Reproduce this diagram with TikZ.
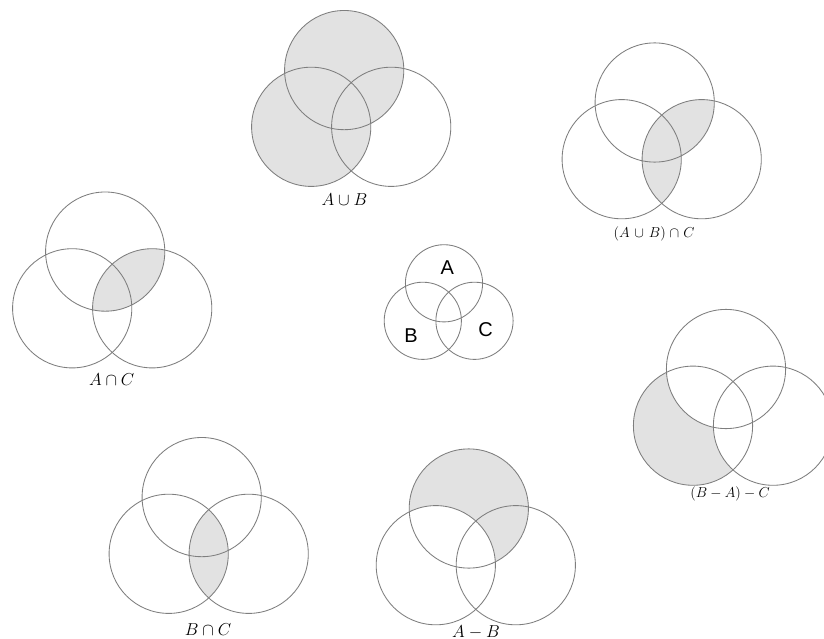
\documentclass[tikz,border=0pt]{standalone}
\usepackage{fontspec}
\newfontfamily\lsans{Liberation Sans}
\definecolor{vline}{HTML}{7E7E7E}
\definecolor{vfill}{HTML}{E2E2E2}
\newcommand\vA{(33,-56.7) circle[radius=59.6pt]}
\newcommand\vB{(0,0) circle[radius=59.6pt]}
\newcommand\vC{(80,0) circle[radius=59.6pt]}
\newcommand\vennrings{\draw[ring] \vA; \draw[ring] \vB; \draw[ring] \vC;}
\begin{document}
\begin{tikzpicture}[x=1pt,y=-1pt,
  ring/.style={draw=vline,line width=0.85pt},
  shade/.style={fill=vfill},
  biglab/.style={font=\fontsize{16}{19}\selectfont, inner sep=0pt},
  smalllab/.style={font=\fontsize{14}{17}\selectfont, inner sep=0pt},
  setlab/.style={font=\lsans\fontsize{20}{24}\selectfont, inner sep=0pt}]
\useasboundingbox (0,0) rectangle (824,639);
\clip (0,0) rectangle (824,639);
\fill[white] (0,0) rectangle (824,639);

% A union B
\begin{scope}[shift={(311.2,126.8)}]
  \fill[shade] \vA; \fill[shade] \vB;
  \vennrings
\end{scope}
\node[biglab] (lab1) at (344.5,200) {$A\cup B$};

% (A union B) cap C
\begin{scope}[shift={(621.7,159.2)}]
  \begin{scope}
    \clip \vC;
    \fill[shade] \vA; \fill[shade] \vB;
  \end{scope}
  \vennrings
\end{scope}
\node[smalllab] (lab2) at (654,234) {$(A\mskip2mu\cup\mskip2mu B)\mskip1mu\cap\mskip1mu C$};

% A cap C
\begin{scope}[shift={(72.2,308.3)}]
  \begin{scope}
    \clip \vC;
    \fill[shade] \vA;
  \end{scope}
  \vennrings
\end{scope}
\node[biglab] (lab3) at (111.7,380) {$A\cap C$};

% centre key
\begin{scope}[shift={(422.8,320.8)}]
  \draw[ring] (21.2,-37.5) circle[radius=38.6pt];
  \draw[ring] (0,0) circle[radius=38.6pt];
  \draw[ring] (51.7,0) circle[radius=38.6pt];
\end{scope}
\node[setlab] (la) at (447.3,267.3) {A};
\node[setlab] (lb) at (411,336) {B};
\node[setlab] (lc) at (485.7,329.3) {C};

% (B - A) - C
\begin{scope}[shift={(693,425.7)}]
  \fill[shade] \vB;
  \fill[white] \vA; \fill[white] \vC;
  \vennrings
\end{scope}
\node[smalllab] (lab4) at (730,494) {$(B-A)-C$};

% B cap C
\begin{scope}[shift={(168.7,553.8)}]
  \begin{scope}
    \clip \vC;
    \fill[shade] \vB;
  \end{scope}
  \vennrings
\end{scope}
\node[biglab] (lab5) at (208,630) {$B\cap C$};

% A - B
\begin{scope}[shift={(435.8,565.2)}]
  \fill[shade] \vA;
  \fill[white] \vB;
  \vennrings
\end{scope}
\node[biglab] (lab6) at (476,632) {$A-B$};
\end{tikzpicture}
\end{document}
